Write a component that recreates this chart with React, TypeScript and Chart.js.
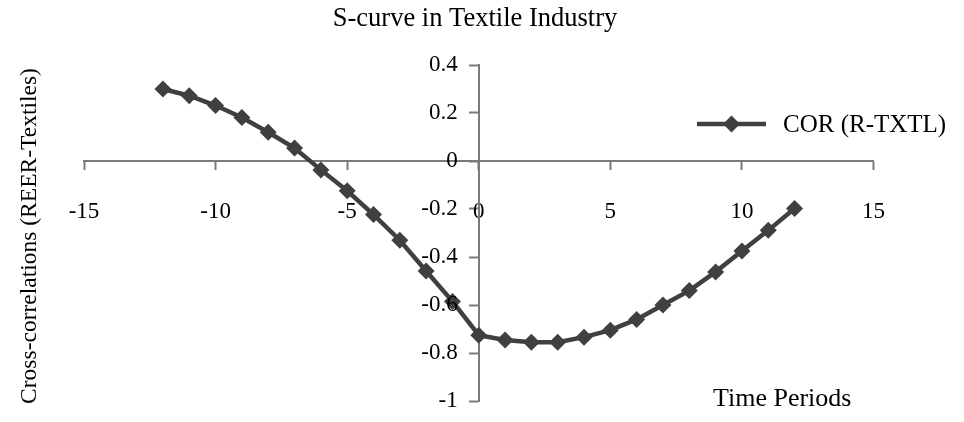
import React, { useEffect, useRef } from 'react';
import { Chart, registerables } from 'chart.js';

Chart.register(...registerables);

// ---- data ----
const lags = [-12, -11, -10, -9, -8, -7, -6, -5, -4, -3, -2, -1, 0, 1, 2, 3, 4, 5, 6, 7, 8, 9, 10, 11, 12];
const correlations = [
  0.3, 0.272, 0.231, 0.181, 0.12, 0.054, -0.037, -0.124, -0.223, -0.33, -0.458, -0.585,
  -0.726, -0.746, -0.755, -0.755, -0.734, -0.705, -0.66, -0.6, -0.54, -0.462, -0.375, -0.289, -0.198,
];
const xTickValues = [-15, -10, -5, 0, 5, 10, 15];
const yTickValues = [0.4, 0.2, 0, -0.2, -0.4, -0.6, -0.8, -1];
const seriesName = 'COR (R-TXTL)';
const chartTitle = 'S-curve in Textile Industry';
const xAxisTitle = 'Time Periods';
const yAxisTitle = 'Cross-correlations (REER-Textiles)';

const FONT = "'Liberation Serif', 'Times New Roman', serif";
const LINE_COLOR = '#404040';
const AXIS_COLOR = '#7a7a7a';
const TICK_FONT_SIZE = 23;
const Y_TICK_LENGTH = 9;
const Y_TICK_PADDING = 12;

const textPlugin = {
  id: 'textPlugin',
  afterDraw(chart: any) {
    const ctx = chart.ctx as CanvasRenderingContext2D;
    const ds = chart.data.datasets[0];
    const xs = chart.scales.x;
    const ys = chart.scales.y;
    ctx.save();
    ctx.fillStyle = '#000';
    // y tick labels (placed left of the centred y axis, via the y scale)
    ctx.font = `${TICK_FONT_SIZE}px ${FONT}`;
    ctx.textAlign = 'right';
    ctx.textBaseline = 'middle';
    const axisX = xs.getPixelForValue(0);
    ys.ticks.forEach((t: any) => {
      ctx.fillText(String(t.value), axisX - Y_TICK_LENGTH - Y_TICK_PADDING, ys.getPixelForValue(t.value));
    });
    // title
    ctx.font = `26.5px ${FONT}`;
    ctx.textAlign = 'center';
    ctx.textBaseline = 'alphabetic';
    ctx.fillText(chartTitle, 475, 26);
    // x axis title
    ctx.font = `26px ${FONT}`;
    ctx.textAlign = 'left';
    ctx.fillText(xAxisTitle, 713, 406);
    // y axis title
    ctx.save();
    ctx.translate(30, 236);
    ctx.rotate(-Math.PI / 2);
    ctx.font = `23.5px ${FONT}`;
    ctx.textAlign = 'center';
    ctx.textBaseline = 'middle';
    ctx.fillText(yAxisTitle, 0, 0);
    ctx.restore();
    // legend
    const ly = 124;
    ctx.strokeStyle = ds.borderColor;
    ctx.lineWidth = ds.borderWidth;
    ctx.beginPath();
    ctx.moveTo(697, ly);
    ctx.lineTo(766, ly);
    ctx.stroke();
    const cx = 731.5;
    const r = ds.pointRadius;
    ctx.fillStyle = ds.pointBackgroundColor;
    ctx.beginPath();
    ctx.moveTo(cx - r, ly);
    ctx.lineTo(cx, ly - r);
    ctx.lineTo(cx + r, ly);
    ctx.lineTo(cx, ly + r);
    ctx.closePath();
    ctx.fill();
    ctx.fillStyle = '#000';
    ctx.font = `25px ${FONT}`;
    ctx.textAlign = 'left';
    ctx.textBaseline = 'middle';
    ctx.fillText(seriesName, 783, ly + 1);
    ctx.restore();
  },
};

export default function App() {
  const canvasRef = useRef<HTMLCanvasElement | null>(null);

  useEffect(() => {
    document.body.style.margin = '0';
    const canvas = canvasRef.current;
    if (!canvas) return;
    const chart = new Chart(canvas, {
      type: 'line',
      data: {
        datasets: [
          {
            label: seriesName,
            data: lags.map((x, i) => ({ x, y: correlations[i] })),
            borderColor: LINE_COLOR,
            backgroundColor: LINE_COLOR,
            borderWidth: 4.5,
            pointStyle: 'rectRot',
            pointRadius: 8.5,
            pointBackgroundColor: LINE_COLOR,
            pointBorderColor: LINE_COLOR,
            pointBorderWidth: 0,
            tension: 0,
            fill: false,
          },
        ],
      },
      options: {
        animation: false,
        responsive: false,
        maintainAspectRatio: false,
        layout: { padding: { left: 84, right: 90.5, top: 65, bottom: 21 } },
        plugins: {
          legend: { display: false },
          title: { display: false },
          tooltip: { enabled: false },
        },
        scales: {
          x: {
            type: 'linear',
            min: -15,
            max: 15,
            position: { y: 0 } as any,
            afterBuildTicks: (scale: any) => {
              scale.ticks = xTickValues.map((v) => ({ value: v }));
            },
            grid: {
              display: true,
              drawOnChartArea: false,
              drawTicks: true,
              tickLength: 8,
              tickWidth: 2,
              tickColor: AXIS_COLOR,
            },
            border: { display: true, color: AXIS_COLOR, width: 2 },
            ticks: {
              padding: 29.5,
              color: '#000',
              font: { family: FONT, size: TICK_FONT_SIZE },
              maxRotation: 0,
              autoSkip: false,
              callback: (v: any) => String(v),
            },
          },
          y: {
            type: 'linear',
            min: -1,
            max: 0.4,
            position: { x: 0 } as any,
            afterBuildTicks: (scale: any) => {
              scale.ticks = yTickValues.map((v) => ({ value: v }));
            },
            grid: {
              display: true,
              drawOnChartArea: false,
              drawTicks: true,
              tickLength: Y_TICK_LENGTH,
              tickWidth: 2,
              tickColor: AXIS_COLOR,
            },
            border: { display: true, color: AXIS_COLOR, width: 2 },
            ticks: {
              display: false,
            },
          },
        },
      },
      plugins: [textPlugin],
    });
    return () => chart.destroy();
  }, []);

  return (
    <div style={{ width: 964, height: 422 }}>
      <canvas ref={canvasRef} width={964} height={422} style={{ display: 'block' }} />
    </div>
  );
}
